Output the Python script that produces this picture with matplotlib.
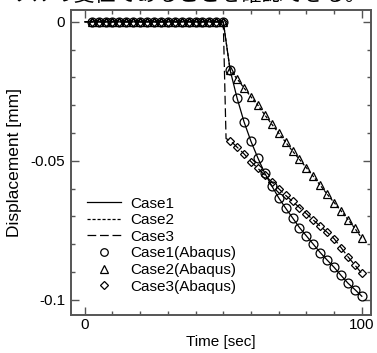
import matplotlib
matplotlib.use("Agg")
import matplotlib.pyplot as plt
import numpy as np

plt.rcParams['font.family'] = ['Liberation Sans', 'Noto Sans CJK JP', 'DejaVu Sans']

# ---- data ----
t_zero = [2.5, 5, 7.5, 10, 12.5, 15, 17.5, 20, 22.5, 25, 27.5, 30, 32.5, 35,
          37.5, 40, 42.5, 45, 47.5, 50]
t_after = [52.5, 55, 57.5, 60, 62.5, 65, 67.5, 70, 72.5, 75, 77.5, 80, 82.5,
           85, 87.5, 90, 92.5, 95, 97.5, 100]
case1_after = [-0.0175, -0.0275, -0.036, -0.043, -0.049, -0.0545, -0.059, -0.0633,
               -0.067, -0.0705, -0.074, -0.077, -0.080, -0.083, -0.0857, -0.0883,
               -0.0912, -0.094, -0.0963, -0.0987]
case2_after = [-0.0175, -0.0205, -0.0238, -0.027, -0.030, -0.0335, -0.0368, -0.040,
               -0.0433, -0.0465, -0.0495, -0.0525, -0.0556, -0.0588, -0.062, -0.065,
               -0.068, -0.0711, -0.0743, -0.0778]
case3_after = [-0.0427, -0.0451, -0.0475, -0.0503, -0.0527, -0.0552, -0.0576, -0.060,
               -0.0624, -0.0646, -0.0668, -0.069, -0.0713, -0.0735, -0.0757, -0.078,
               -0.0812, -0.0845, -0.0875, -0.0905]
case3_drop_t = [50, 51]
case3_drop_y = [0.0, -0.042]

labels = ['Case1', 'Case2', 'Case3', 'Case1(Abaqus)', 'Case2(Abaqus)', 'Case3(Abaqus)']
top_text = 'ソルの変位であることを確認できる。'

zeros = [0.0] * len(t_zero)
t_line = [0] + t_zero + t_after
c1 = [0.0] + zeros + case1_after
c2 = [0.0] + zeros + case2_after
t3 = [0] + t_zero + [case3_drop_t[1]] + t_after
c3 = [0.0] + zeros + [case3_drop_y[1]] + case3_after
t_mk = t_zero + t_after

fig = plt.figure(figsize=(3.77, 3.53), dpi=100)
ax = fig.add_axes([0.188, 0.108, 0.796, 0.864])

lw = 0.9
h1, = ax.plot(t_line, c1, color='black', lw=lw, ls='-')
h2, = ax.plot(t_line, c2, color='black', lw=lw, ls=(0, (2.5, 1.5)))
h3, = ax.plot(t3, c3, color='black', lw=lw, ls=(0, (7, 3)))
mk = dict(ls='none', color='black', mfc='none', mew=0.9)
h4, = ax.plot(t_mk, zeros + case1_after, marker='o', ms=6.4, **mk)
h5, = ax.plot(t_mk, zeros + case2_after, marker='^', ms=6.4, **mk)
h6, = ax.plot(t_mk, zeros + case3_after, marker='D', ms=4.4, **mk)

ax.set_xlim(-5, 103.3)
ax.set_ylim(-0.1054, 0.0043)
ax.set_xticks([0, 100])
ax.set_xticklabels(['0', '100'])
ax.set_xticks(np.arange(0, 101, 10), minor=True)
ax.set_yticks([0, -0.05, -0.1])
ax.set_yticklabels(['0', '-0.05', '-0.1'])
ax.set_yticks(np.arange(-0.1, 0.001, 0.01), minor=True)
ax.tick_params(which='both', direction='in', top=True, right=True,
               labelsize=11, color='#555555', width=1)
ax.tick_params(which='major', length=6)
ax.tick_params(which='minor', length=3)
ax.tick_params(axis='x', which='major', pad=2.5)
ax.tick_params(axis='y', which='major', pad=4)
for s in ax.spines.values():
    s.set_color('#555555')
    s.set_linewidth(1.4)

ax.set_xlabel('Time [sec]', fontsize=11, labelpad=2)
ax.set_ylabel('Displacement [mm]', fontsize=12.5, labelpad=6)

leg = ax.legend([h1, h2, h3, h4, h5, h6], labels, loc='lower left',
                bbox_to_anchor=(0.035, 0.05), frameon=False, fontsize=11,
                handlelength=2.2, handletextpad=0.6, labelspacing=0.17,
                borderaxespad=0, markerscale=0.85)

fig.text(0.5, 1.015, top_text, fontsize=15, ha='center', va='center',
         family=['Noto Sans CJK JP', 'DejaVu Sans'])

fig.savefig('out.png', dpi=100)
